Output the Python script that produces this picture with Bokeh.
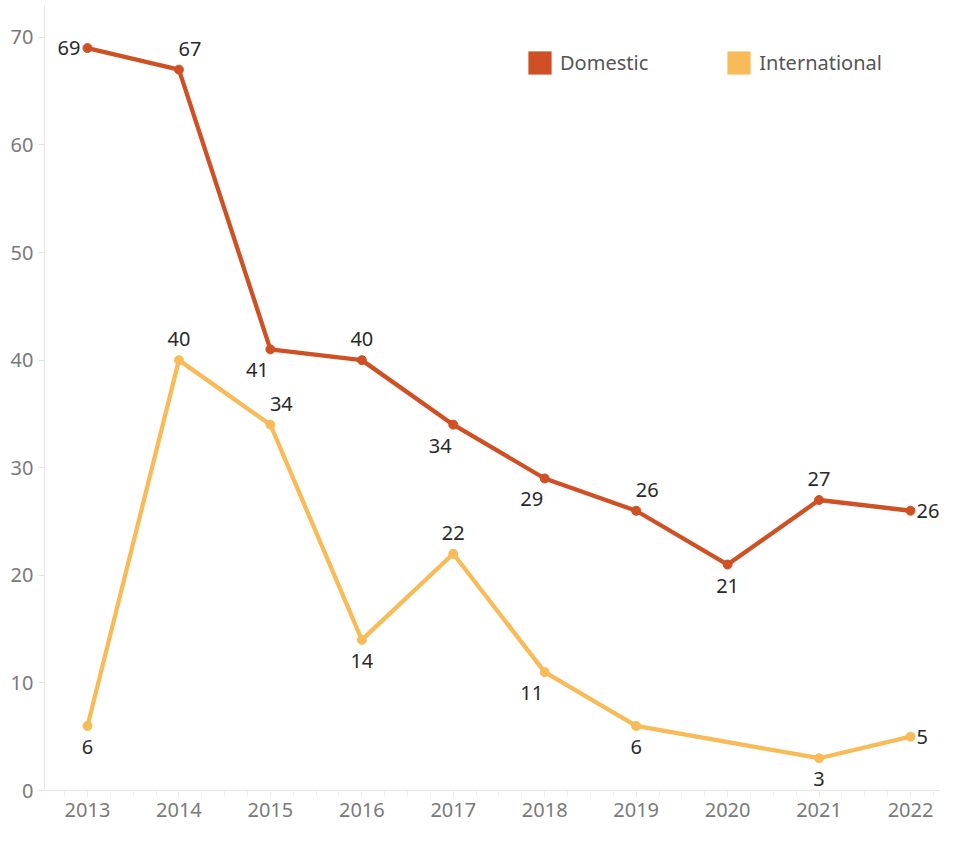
from bokeh.plotting import figure
from bokeh.models import Range1d, SingleIntervalTicker, FixedTicker, Legend, LegendItem, ColumnDataSource
from bokeh.core.properties import value
from bokeh.embed import file_html
from bokeh.resources import INLINE

# ---- data ----
years = [2013, 2014, 2015, 2016, 2017, 2018, 2019, 2020, 2021, 2022]
domestic = [69, 67, 41, 40, 34, 29, 26, 21, 27, 26]
international = [6, 40, 34, 14, 22, 11, 6, None, 3, 5]
domestic_label_pos = ["left", "above-right", "below-left", "above", "below-left",
                      "below-left", "above-right", "below", "above", "right"]
international_label_pos = ["below", "above", "above-right", "below", "above",
                           "below-left", "below", None, "below", "right"]
y_ticks = [0, 10, 20, 30, 40, 50, 60, 70]
series_names = ["Domestic", "International"]

# ---- style ----
COLORS = {"Domestic": "#cf5024", "International": "#f8bb58"}
FONT = "Noto Sans"
FS = "20px"
OFF = {
    "left": (-7, 0, "right"),
    "right": (6, 0, "left"),
    "above": (0, -21, "center"),
    "below": (0, 21, "center"),
    "above-right": (11, -21, "center"),
    "below-left": (-13, 21, "center"),
}

p = figure(width=940, height=825, output_backend="svg", toolbar_location=None,
           x_range=Range1d(2012.530, 2022.328), y_range=Range1d(0, 72.96),
           min_border_left=44, min_border_right=0, min_border_top=5, min_border_bottom=35)
p.outline_line_color = None
p.xgrid.visible = False
p.ygrid.visible = False

# axes
p.xaxis.ticker = SingleIntervalTicker(interval=1, num_minor_ticks=4)
p.yaxis.ticker = FixedTicker(ticks=y_ticks)
for ax in (p.xaxis, p.yaxis):
    ax.axis_line_color = "#e6e6e6"
    ax.major_tick_line_color = "#e3e3e3"
    ax.minor_tick_line_color = "#ececec"
    ax.major_tick_in = 0
    ax.minor_tick_in = 0
    ax.major_label_text_font = FONT
    ax.major_label_text_font_size = FS
    ax.major_label_text_color = "#7a7a7a"
p.xaxis.major_tick_out = 6
p.xaxis.minor_tick_out = 5
p.xaxis.major_label_standoff = 6
p.yaxis.major_tick_out = 6
p.yaxis.minor_tick_out = 0
p.yaxis.major_label_standoff = 5


def draw(name, vals, poss):
    xs = [x for x, v in zip(years, vals) if v is not None]
    ys = [v for v in vals if v is not None]
    ps = [q for q, v in zip(poss, vals) if v is not None]
    col = COLORS[name]
    p.line(xs, ys, line_color=col, line_width=4.3, line_join="round", line_cap="round")
    p.scatter(xs, ys, size=9, fill_color=col, line_color=col)
    src = ColumnDataSource(dict(
        x=xs, y=ys, t=[str(v) for v in ys],
        dx=[OFF[q][0] for q in ps], dy=[OFF[q][1] for q in ps],
        al=[OFF[q][2] for q in ps]))
    p.text(x="x", y="y", text="t", x_offset="dx", y_offset="dy", text_align="al",
           text_baseline="middle", text_font=value(FONT), text_font_size=FS,
           text_color="#2a2a2a", source=src)


draw("International", international, international_label_pos)
draw("Domestic", domestic, domestic_label_pos)

# legend (swatch renderers hold no visible data)
nan = float("nan")
items = []
for name in series_names:
    r = p.quad(left=[nan], right=[nan], top=[nan], bottom=[nan],
               fill_color=COLORS[name], line_color=None)
    items.append(LegendItem(label=name, renderers=[r]))
legend = Legend(items=items, orientation="horizontal", location=(481, 713),
                glyph_width=29, glyph_height=29, label_height=29, label_standoff=6,
                spacing=76, padding=0, margin=0, border_line_alpha=0,
                background_fill_alpha=0, label_text_font=FONT,
                label_text_font_size=FS, label_text_color="#555555")
p.add_layout(legend)

open("out.html", "w").write(file_html(p, INLINE))
